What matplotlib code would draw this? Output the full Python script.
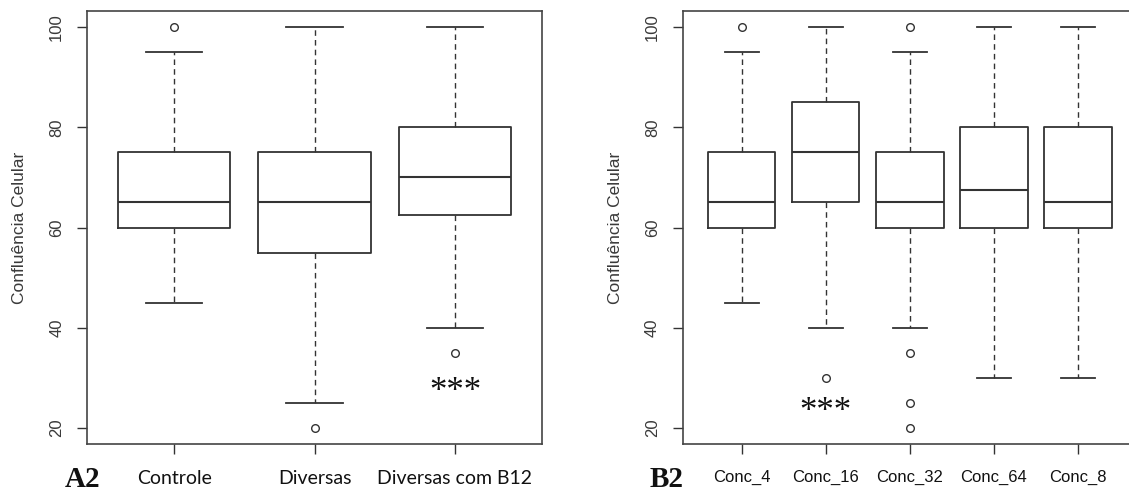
import matplotlib.pyplot as plt

# painel A2
grupos_a = ['Controle', 'Diversas', 'Diversas com B12']
mediana_a = [65, 65, 70]
q1_a = [60, 55, 62.5]
q3_a = [75, 75, 80]
min_a = [45, 25, 40]
max_a = [95, 100, 100]
outliers_a = [[100], [20], [35]]
asteriscos_a = ('Diversas com B12', 28.5)

# painel B2
grupos_b = ['Conc_4', 'Conc_16', 'Conc_32', 'Conc_64', 'Conc_8']
mediana_b = [65, 75, 65, 67.5, 65]
q1_b = [60, 65, 60, 60, 60]
q3_b = [75, 85, 75, 80, 80]
min_b = [45, 40, 40, 30, 30]
max_b = [95, 100, 95, 100, 100]
outliers_b = [[100], [30], [100, 35, 25, 20], [], []]
asteriscos_b = ('Conc_16', 24.5)

yticks = [20, 40, 60, 80, 100]

cor = '#333333'
cor_texto = '#3a3a3a'


def desenha(ax, grupos, med, q1, q3, lo, hi, out, ast, fonte_x, tam_x):
	stats = []
	for g, m, a, b, l, h, o in zip(grupos, med, q1, q3, lo, hi, out):
		stats.append(dict(label=g, med=m, q1=a, q3=b, whislo=l, whishi=h, fliers=o))
	n = len(grupos)
	pos = list(range(1, n + 1))
	ax.bxp(stats, positions=pos, widths=0.8, capwidths=0.4,
		boxprops=dict(color=cor, linewidth=1.3),
		whiskerprops=dict(color=cor, linewidth=1.0, linestyle=(0, (4, 3))),
		capprops=dict(color=cor, linewidth=1.3),
		medianprops=dict(color=cor, linewidth=1.5),
		flierprops=dict(marker='o', markerfacecolor='none', markeredgecolor=cor,
			markersize=5.5, markeredgewidth=1.0))

	# limites como no R (4% de folga)
	ax.set_xlim(0.5 - 0.04 * n, n + 0.5 + 0.04 * n)
	ax.set_ylim(20 - 0.04 * 80, 100 + 0.04 * 80)

	ax.set_yticks(yticks)
	ax.set_yticklabels([str(v) for v in yticks], rotation=90, va='center',
		fontsize=12, color=cor_texto, family='Liberation Sans')
	ax.set_xticks(pos)
	ax.set_xticklabels(grupos, fontsize=tam_x, family=fonte_x, color='#111111')
	ax.tick_params(axis='y', length=7.5, width=1.0, color=cor, pad=9)
	ax.tick_params(axis='x', length=7.5, width=1.0, color=cor, pad=11)

	ax.set_ylabel('Confluência Celular', fontsize=12.5, color=cor_texto,
		family='Liberation Sans')
	ax.yaxis.set_label_coords(-0.132, 0.5)

	for s in ax.spines.values():
		s.set_color('#444444')
		s.set_linewidth(1.2)

	ax.annotate('***', (grupos.index(ast[0]) + 1, ast[1]), xytext=(0, -5),
		textcoords='offset points', ha='center', va='center',
		fontsize=25, family='Liberation Serif', color='#111111')


fig = plt.figure(figsize=(11.29, 4.94), dpi=100)
ax1 = fig.add_axes([0.0771, 0.1012, 0.4030, 0.8765])
ax2 = fig.add_axes([0.6049, 0.1012, 0.4021, 0.8765])

desenha(ax1, grupos_a, mediana_a, q1_a, q3_a, min_a, max_a, outliers_a,
	asteriscos_a, 'Lato', 14)
desenha(ax2, grupos_b, mediana_b, q1_b, q3_b, min_b, max_b, outliers_b,
	asteriscos_b, 'Liberation Sans', 12)

fig.text(0.0576, 0.0142, 'A2', fontsize=21, fontweight='bold',
	family='Liberation Serif', color='#111111')
fig.text(0.5757, 0.0142, 'B2', fontsize=21, fontweight='bold',
	family='Liberation Serif', color='#111111')

fig.savefig('out.png', dpi=100)
